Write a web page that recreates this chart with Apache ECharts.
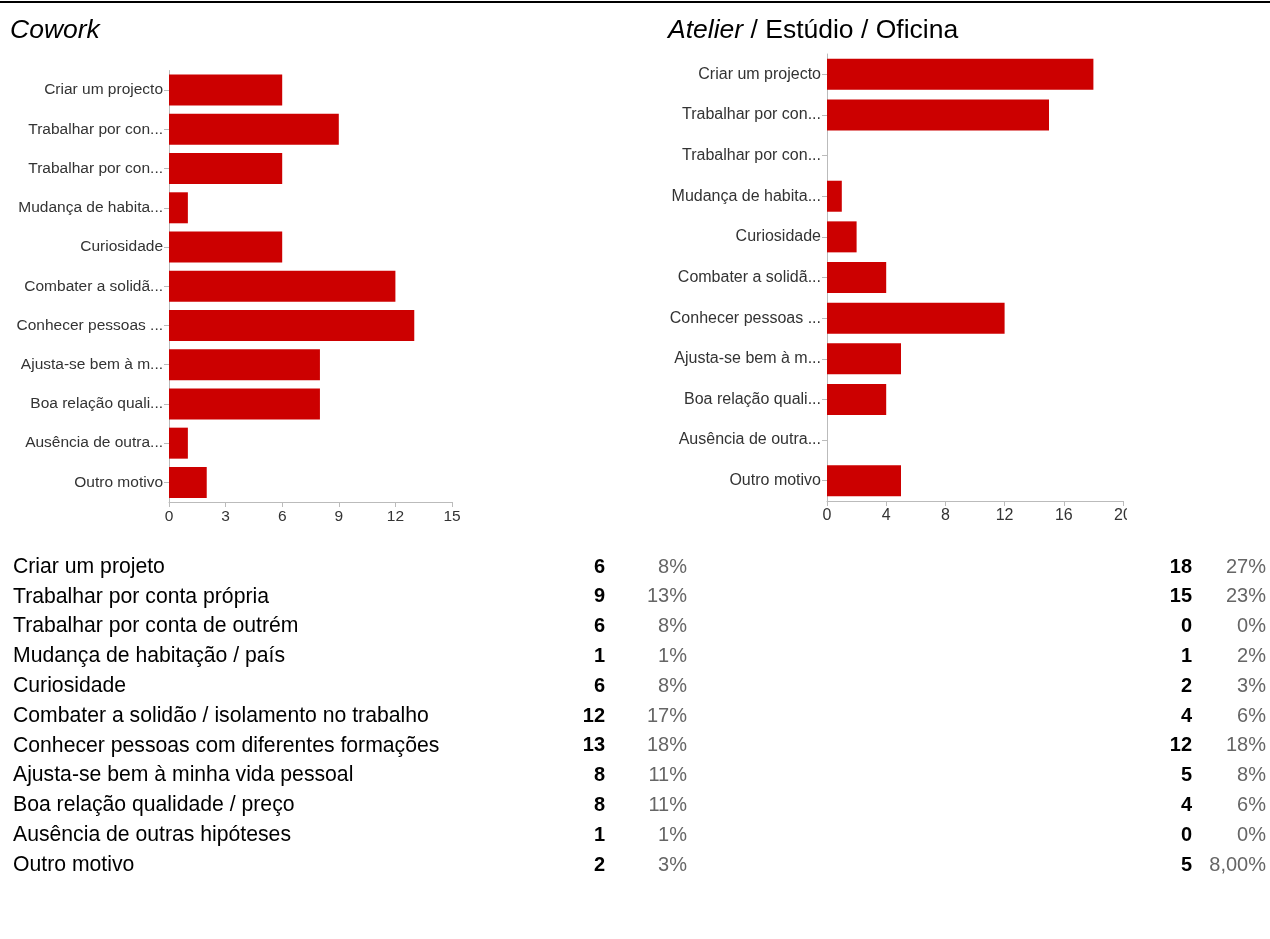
<!DOCTYPE html>
<html>
<head>
<meta charset="utf-8">
<script src="https://cdn.jsdelivr.net/npm/echarts@6/dist/echarts.min.js"></script>
<style>
html,body{margin:0;padding:0;background:#fff;}
#main{position:absolute;left:0;top:0;width:1270px;height:939px;}
#right{position:absolute;left:640px;top:0;width:487px;height:540px;overflow:hidden;}
</style>
</head>
<body>
<div id="main"></div>
<div id="right"></div>
<script>
// ---- data ----
const chartLabels = ['Criar um projecto','Trabalhar por con...','Trabalhar por con...','Mudança de habita...','Curiosidade','Combater a solidã...','Conhecer pessoas ...','Ajusta-se bem à m...','Boa relação quali...','Ausência de outra...','Outro motivo'];
const tableLabels = ['Criar um projeto','Trabalhar por conta própria','Trabalhar por conta de outrém','Mudança de habitação / país','Curiosidade','Combater a solidão / isolamento no trabalho','Conhecer pessoas com diferentes formações','Ajusta-se bem à minha vida pessoal','Boa relação qualidade / preço','Ausência de outras hipóteses','Outro motivo'];
const coworkValues = [6, 9, 6, 1, 6, 12, 13, 8, 8, 1, 2];
const coworkPct = ['8%','13%','8%','1%','8%','17%','18%','11%','11%','1%','3%'];
const atelierValues = [18, 15, 0, 1, 2, 4, 12, 5, 4, 0, 5];
const atelierPct = ['27%','23%','0%','2%','3%','6%','18%','8%','6%','0%','8,00%'];
const coworkTicks = {min: 0, max: 15, interval: 3};
const atelierTicks = {min: 0, max: 20, interval: 4};

const FONT = 'Liberation Sans, Arial, Helvetica, sans-serif';
const RED = '#cc0000';

function axes(ticks, fs) {
  return {
    x: {
      type: 'value', min: ticks.min, max: ticks.max, interval: ticks.interval,
      axisLine: {show: true, lineStyle: {color: '#bbb', width: 1}},
      axisTick: {show: true, length: 5, lineStyle: {color: '#bbb'}},
      splitLine: {show: false},
      axisLabel: {color: '#333', fontSize: fs, fontFamily: FONT, margin: 7}
    },
    y: {
      type: 'category', data: chartLabels, inverse: true,
      axisLine: {show: true, lineStyle: {color: '#bbb', width: 1}},
      axisTick: {show: true, length: 5, alignWithLabel: true, lineStyle: {color: '#bbb'}},
      axisLabel: {color: '#333', fontSize: fs, fontFamily: FONT, margin: 6}
    }
  };
}

// ---- main chart: left bars, titles, table ----
const main = echarts.init(document.getElementById('main'), null, {renderer: 'canvas'});
const ax1 = axes(coworkTicks, 15.5);
const graphics = [
  {type: 'rect', shape: {x: 0, y: 1, width: 1270, height: 2}, style: {fill: '#000'}},
  {type: 'text', x: 10, y: 31, style: {text: 'Cowork', fontSize: 26.5, fontStyle: 'italic', fontFamily: FONT, fill: '#000', verticalAlign: 'middle'}},
  {type: 'text', x: 668, y: 31, style: {
    text: '{i|Atelier} / Estúdio / Oficina', fontSize: 26.5, fontFamily: FONT, fill: '#000', verticalAlign: 'middle',
    rich: {i: {fontStyle: 'italic', fontSize: 26.5, fontFamily: FONT, fill: '#000'}}
  }}
];
const rowY0 = 567, rowStep = 29.8;
tableLabels.forEach((lab, i) => {
  const y = rowY0 + i * rowStep;
  graphics.push({type: 'text', x: 13, y: y, style: {text: lab, fontSize: 21.2, fontFamily: FONT, fill: '#000', verticalAlign: 'middle', align: 'left'}});
  graphics.push({type: 'text', x: 605, y: y, style: {text: String(coworkValues[i]), fontSize: 20, fontWeight: 'bold', fontFamily: FONT, fill: '#000', verticalAlign: 'middle', align: 'right'}});
  graphics.push({type: 'text', x: 687, y: y, style: {text: coworkPct[i], fontSize: 20, fontFamily: FONT, fill: '#666', verticalAlign: 'middle', align: 'right'}});
  graphics.push({type: 'text', x: 1192, y: y, style: {text: String(atelierValues[i]), fontSize: 20, fontWeight: 'bold', fontFamily: FONT, fill: '#000', verticalAlign: 'middle', align: 'right'}});
  graphics.push({type: 'text', x: 1266, y: y, style: {text: atelierPct[i], fontSize: 20, fontFamily: FONT, fill: '#666', verticalAlign: 'middle', align: 'right'}});
});

main.setOption({
  animation: false,
  backgroundColor: '#fff',
  grid: {left: 169, top: 70.5, width: 283, height: 431.5, containLabel: false, outerBoundsMode: 'none'},
  xAxis: ax1.x,
  yAxis: ax1.y,
  series: [{type: 'bar', data: coworkValues, barWidth: 31, itemStyle: {color: RED}}],
  graphic: graphics
});

// ---- right chart (clipped at the right like the original) ----
const right = echarts.init(document.getElementById('right'), null, {renderer: 'canvas'});
const ax2 = axes(atelierTicks, 16);
right.setOption({
  animation: false,
  grid: {left: 187, top: 54, width: 296, height: 447, containLabel: false, outerBoundsMode: 'none'},
  xAxis: ax2.x,
  yAxis: ax2.y,
  series: [{type: 'bar', data: atelierValues, barWidth: 31, itemStyle: {color: RED}}]
});
</script>
</body>
</html>
